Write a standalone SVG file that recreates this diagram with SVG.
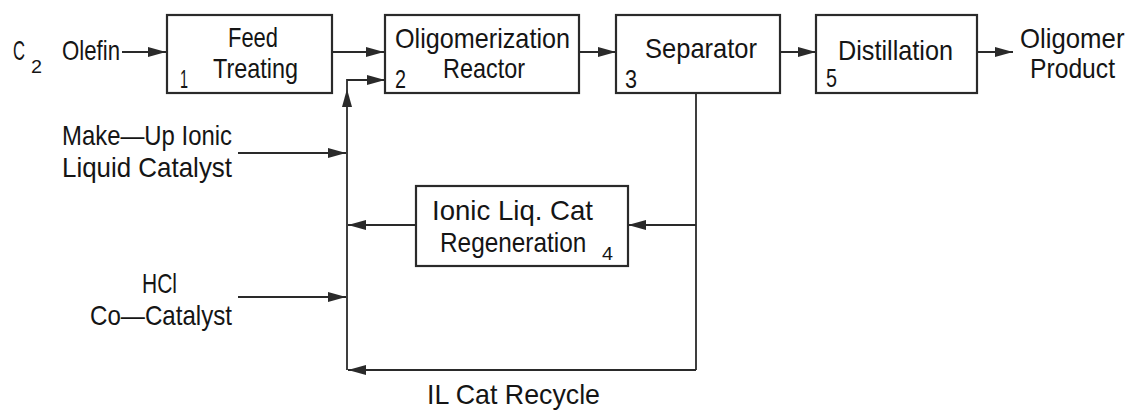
<svg xmlns="http://www.w3.org/2000/svg" width="1128" height="410" viewBox="0 0 1128 410">
<defs>
<marker id="ah" markerUnits="userSpaceOnUse" markerWidth="18" markerHeight="10" refX="18" refY="5" orient="auto">
<path d="M0,0 L18,5 L0,10 Z" fill="#2a2a2a"/>
</marker>
<style>
.box{fill:#fff;stroke:#2a2a2a;stroke-width:2.2}
.ln{fill:none;stroke:#2a2a2a;stroke-width:1.8}
.arr{fill:none;stroke:#2a2a2a;stroke-width:1.8;marker-end:url(#ah)}
text{font-family:"Liberation Sans",Arial,sans-serif;font-size:28px;fill:#151515}
.num{font-size:25px}
.sm{font-size:18px}
</style>
</defs>
<rect width="1128" height="410" fill="#fff"/>
<g id="connectors">
<path class="arr" d="M122,52 H166"/>
<path class="arr" d="M332,52 H384"/>
<path class="arr" d="M347,370 V89"/>
<path class="arr" d="M347,89 V80 H385"/>
<path class="arr" d="M579,52 H616"/>
<path class="arr" d="M780,52 H816"/>
<path class="arr" d="M978,52 H1013"/>
<path class="ln" d="M696,93 V370"/>
<path class="arr" d="M696,370 H348"/>
<path class="arr" d="M696,225 H628"/>
<path class="arr" d="M416,225 H348"/>
<path class="arr" d="M238,153 H346"/>
<path class="arr" d="M238,297 H346"/>
</g>
<g id="n1">
<rect class="box" x="167" y="15" width="165" height="78"/>
<text x="228" y="47" textLength="50" lengthAdjust="spacingAndGlyphs">Feed</text>
<text x="213" y="78" textLength="85" lengthAdjust="spacingAndGlyphs">Treating</text>
<text class="num" x="180" y="88" textLength="8" lengthAdjust="spacingAndGlyphs">1</text>
</g>
<g id="n2">
<rect class="box" x="385" y="15" width="194" height="78"/>
<text x="395" y="48" textLength="175" lengthAdjust="spacingAndGlyphs">Oligomerization</text>
<text x="443" y="78" textLength="82" lengthAdjust="spacingAndGlyphs">Reactor</text>
<text class="num" x="395" y="88" textLength="11" lengthAdjust="spacingAndGlyphs">2</text>
</g>
<g id="n3">
<rect class="box" x="616" y="15" width="164" height="78"/>
<text x="645" y="58" textLength="112" lengthAdjust="spacingAndGlyphs">Separator</text>
<text class="num" x="625" y="88" textLength="12" lengthAdjust="spacingAndGlyphs">3</text>
</g>
<g id="n5">
<rect class="box" x="816" y="15" width="161" height="78"/>
<text x="838" y="60" textLength="115" lengthAdjust="spacingAndGlyphs">Distillation</text>
<text class="num" x="826" y="87" textLength="11" lengthAdjust="spacingAndGlyphs">5</text>
</g>
<g id="n4">
<rect class="box" x="416" y="186" width="212" height="80"/>
<text x="432" y="220" textLength="161" lengthAdjust="spacingAndGlyphs">Ionic Liq. Cat</text>
<text transform="translate(440,252) scale(0.87,1)" x="0" y="0">Regeneration</text>
<text class="sm" x="602" y="260" textLength="11" lengthAdjust="spacingAndGlyphs">4</text>
</g>
<g id="feed">
<text x="13" y="60"><tspan textLength="12" lengthAdjust="spacingAndGlyphs">C</tspan><tspan class="sm" x="31" y="73" textLength="11" lengthAdjust="spacingAndGlyphs">2</tspan></text>
<text x="62" y="60" textLength="58" lengthAdjust="spacingAndGlyphs">Olefin</text>
</g>
<g id="product">
<text transform="translate(1020,48) scale(0.92,1)" x="0" y="0">Oligomer</text>
<text x="1030" y="78" textLength="85" lengthAdjust="spacingAndGlyphs">Product</text>
</g>
<g id="makeup">
<text x="62" y="145" textLength="170" lengthAdjust="spacingAndGlyphs">Make—Up Ionic</text>
<text x="62" y="177" textLength="170" lengthAdjust="spacingAndGlyphs">Liquid Catalyst</text>
</g>
<g id="hcl">
<text x="142" y="293" textLength="35" lengthAdjust="spacingAndGlyphs">HCl</text>
<text x="90" y="325" textLength="142" lengthAdjust="spacingAndGlyphs">Co—Catalyst</text>
</g>
<g id="recycle">
<text x="427" y="404" textLength="173" lengthAdjust="spacingAndGlyphs">IL Cat Recycle</text>
</g>
</svg>
